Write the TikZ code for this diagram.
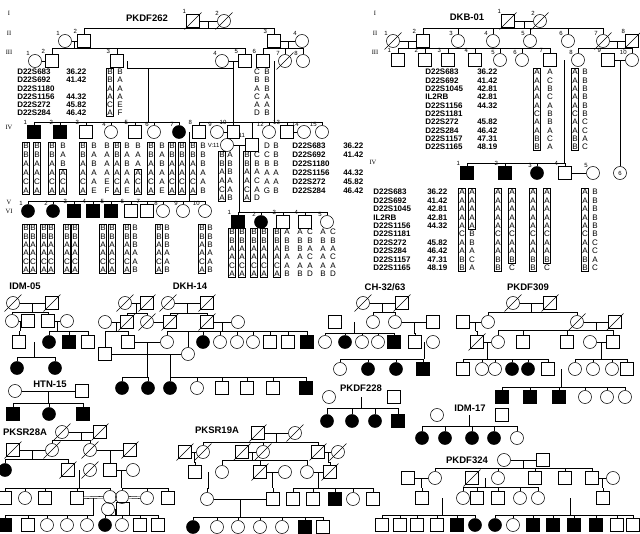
\documentclass[tikz,border=0pt]{standalone}
\usepackage{fontspec}
\setmainfont{Liberation Sans}
\newfontfamily\romfont{Liberation Serif}
\usetikzlibrary{calc}

\newcommand{\dishap}{B\\B\\A\\A\\C\\A}
\newcommand{\dkbhap}{A\\A\\A\\A\\A\\C\\A\\A\\B\\B}
% descent line from a marriage point to a row of children
\newcommand{\kids}[3]{%
  \coordinate (kidsy) at (0,#2);
  \draw (#1) -- (#1 |- kidsy);
  \foreach \kid in {#3} {\draw (\kid.north) |- (#1 |- kidsy);}
}

\tikzset{
  male/.style={draw, rectangle, minimum size=12.5pt, inner sep=0pt},
  female/.style={draw, circle, minimum size=13pt, inner sep=0pt},
  aff/.style={fill=black},
  dead/.style={append after command={([shift={(-8.5pt,-8.5pt)}]\tikzlastnode.center) edge ([shift={(8.5pt,8.5pt)}]\tikzlastnode.center)}},
  idx/.style={label={[font=\fontsize{6}{6}\selectfont, inner sep=.3pt, anchor=south east]north west:#1}},
  ttl/.style={font=\fontsize{9.5}{10}\selectfont\bfseries},
  gen/.style={font=\fontsize{6.5}{7}\selectfont\romfont},
  mk/.style={font=\fontsize{8}{#1}\selectfont\bfseries, align=left, anchor=west, inner sep=0pt},
  hap/.style={font=\fontsize{8}{#1}\selectfont, align=center, inner sep=.7pt, line width=.45pt},
  cons/.style={double, double distance=1.1pt},
}

\begin{document}
\begin{tikzpicture}[x=1pt, y=-1pt, line width=.55pt]
\path[use as bounding box, fill=white] (0,0) rectangle (640,533);

% ---------------- PKDF262 ----------------
\node[ttl] (aT) at (147,18) {PKDF262};
\node[gen] (aG1) at (9,13) {I};
\node[gen] (aG2) at (9,33) {II};
\node[gen] (aG3) at (9,52) {III};
\node[gen] (aG4) at (9,127) {IV};
\node[gen] (aG5) at (9,202) {V};
\node[gen] (aG6) at (9,211) {VI};

\node[male, dead, idx=1] (aI1) at (193,21) {};
\node[female, dead, idx=2] (aI2) at (224,21) {};

\node[female, idx=1] (aII1) at (65,41) {};
\node[male, idx=2] (aII2) at (84,41) {};
\node[male, idx=3] (aII3) at (274,41) {};
\node[female, idx=4] (aII4) at (302,41) {};

\node[female, idx=1] (aIII1) at (35,61) {};
\node[male, idx=2] (aIII2) at (52,61) {};
\node[male, idx=3] (aIII3) at (117,61) {};
\node[female, idx=4] (aIII4) at (222,61) {};
\node[male, idx=5] (aIII5) at (245,61) {};
\node[male, idx=6] (aIII6) at (263,61) {};
\node[female, dead, idx=7] (aIII7) at (285,61) {};
\node[female, idx=8] (aIII8) at (303,61) {};

\node[male, aff, idx=1] (aIV1) at (34,132) {};
\node[male, aff, idx=2] (aIV2) at (60,132) {};
\node[male, idx=3] (aIV3) at (86,132) {};
\node[female, idx=4] (aIV4) at (111,132) {};
\node[male, idx=5] (aIV5) at (135,132) {};
\node[female, idx=6] (aIV6) at (154,132) {};
\node[female, aff, idx=7] (aIV7) at (179,132) {};
\node[male, idx=8] (aIV8) at (199,132) {};
\node[female, idx=9] (aIV9) at (217,132) {};
\node[male, idx=10] (aIV10) at (233.5,132) {};
\node[male, idx=11] (aIV11) at (252,145) {};
\node[female] (aV11) at (227,145) {};
\node[font=\fontsize{6}{6}\selectfont, anchor=east, inner sep=.5pt] (aV11l) at (aV11.west) {V:11};
\node[female, idx=12] (aIV12) at (269,132) {};
\node[male, idx=13] (aIV13) at (287,132) {};
\node[female, idx=14] (aIV14) at (304,132) {};
\node[female, idx=15] (aIV15) at (322,132) {};

\node[female, aff, idx=1] (aV1) at (28,211) {};
\node[female, aff, idx=2] (aV2) at (53,211) {};
\node[male, aff, idx=3] (aV3) at (74,211) {};
\node[male, aff, idx=4] (aV4) at (93,211) {};
\node[male, aff, idx=5] (aV5) at (111,211) {};
\node[male, idx=6] (aV6) at (131,211) {};
\node[male, idx=7] (aV7) at (147,211) {};
\node[female, idx=8] (aV8) at (163,211) {};
\node[female, idx=9] (aV9) at (183,211) {};
\node[female, idx=10] (aV10) at (205,211) {};

\node[male, aff, idx=1] (aVI1) at (238,222) {};
\node[female, aff, idx=2] (aVI2) at (261,222) {};
\node[male, idx=3] (aVI3) at (283,222) {};
\node[male, idx=4] (aVI4) at (305,222) {};
\node[female, idx=5] (aVI5) at (327,222) {};

\draw (aI1) -- (aI2);
\coordinate (aM1) at ($(aI1)!.5!(aI2)$);
\kids{aM1}{28}{aII2,aII3}
\draw (aII1) -- (aII2);
\draw (aII3) -- (aII4);
\coordinate (aM2) at ($(aII1)!.5!(aII2)$);
\kids{aM2}{48}{aIII2,aIII3,aIII5}
\coordinate (aM3) at ($(aII3)!.5!(aII4)$);
\kids{aM3}{48}{aIII6,aIII7,aIII8}
\draw (aIII1) -- (aIII2);
\draw (aIII4) -- (aIII5);
\draw[cons] (aIII6) -- (aIII7);
\coordinate (aJ1) at (127,68);
\coordinate (aJ2) at (148,68);
\coordinate (aM45) at ($(aIII4)!.5!(aIII5)$);
\draw[cons] (aIII3.east) -- (aIII3.east -| aJ1);
\draw (aIII3.east -| aJ1) -- (aJ1) -- (aJ1 -| aM45);
\draw (aM45) -- (aIV10);
\kids{aJ2}{122}{aIV1,aIV2,aIV3,aIV4,aIV5,aIV6,aIV7}
\coordinate (aM67) at ($(aIII6)!.5!(aIII7)$);
\kids{aM67}{122}{aIV8,aIV11,aIV12,aIV13,aIV15}
\draw[cons] (aIV7) -- (aIV8);
\draw (aIV9) -- (aIV10);
\draw (aIV13) -- (aIV14);
\draw (aV11) -- (aIV11);
\coordinate (aM78) at ($(aIV7)!.5!(aIV8)$);
\kids{aM78}{201}{aV1,aV2,aV3,aV4,aV5,aV6,aV7,aV8,aV9,aV10}
\coordinate (aM11) at ($(aV11)!.5!(aIV11)$);
\kids{aM11}{212}{aVI1,aVI2,aVI3,aVI4,aVI5}

% markers and haplotypes
\node[mk=8.2] (aMk) at (17,92.5) {D22S683\\D22S692\\D22S1180\\D22S1156\\D22S272\\D22S284};
\node[mk=8.2] (aCm) at (66,92.5) {36.22\\41.42\\~\\44.32\\45.82\\46.42};
\node[mk=9] (aMk2) at (292,168.5) {D22S683\\D22S692\\D22S1180\\D22S1156\\D22S272\\D22S284};
\node[mk=9] (aCm2) at (343,168.5) {36.22\\41.42\\~\\44.32\\45.82\\46.42};

\foreach \x/\bx/\al [count=\i] in {110/black/\dishap, 120/none/{B\\A\\A\\A\\E\\F},
  257/none/{C\\B\\A\\C\\A\\D}, 267/none/{B\\B\\B\\A\\A\\B}}
  \node[hap=8.2, draw=\bx] (aP\i) at (\x,92.5) {\al};

\foreach \x/\bx/\al [count=\i] in {26/black/\dishap, 37/black/\dishap, 52/black/\dishap,
  83/black/\dishap, 94/none/{B\\A\\B\\A\\A\\E}, 107/none/{B\\A\\A\\A\\E\\F},
  117/black/\dishap, 127/none/{B\\A\\B\\A\\A\\E}, 151/black/\dishap,
  162/none/{B\\A\\B\\A\\A\\E}, 172/black/\dishap, 182/black/\dishap,
  193/black/\dishap, 203/none/{B\\B\\B\\A\\A\\B}, 267/none/{D\\C\\B\\A\\A\\G},
  276/none/{B\\B\\B\\A\\A\\B}}
  \node[hap=9, draw=\bx] (aH\i) at (\x,168.5) {\al};
\node[hap=9] (aH2a) at (63,155) {B\\A\\B};
\node[hap=9, draw] (aH2b) at (63,182) {A\\C\\A};
\node[hap=9] (aH5a) at (138,155) {B\\A\\A};
\node[hap=9, draw] (aH5b) at (138,182) {A\\C\\A};

\foreach \x/\bx/\al [count=\i] in {222/black/\dishap, 230/none/{A\\B\\B\\A\\A\\B},
  247/black/\dishap, 257/none/{C\\B\\A\\C\\A\\D}}
  \node[hap=8.6, draw=\bx] (aK\i) at (\x,176.5) {\al};

\foreach \x/\bx/\al [count=\i] in {26/black/\dishap, 33/black/\dishap, 44/black/\dishap,
  51/black/\dishap, 67/black/\dishap, 75/black/\dishap, 103/black/\dishap,
  112/black/\dishap, 127/black/\dishap, 135/none/{B\\B\\B\\A\\A\\B},
  159/black/\dishap, 167/none/{B\\B\\B\\A\\A\\B}, 202/black/\dishap,
  210/none/{B\\B\\B\\A\\A\\B}}
  \node[hap=8.4, draw=\bx] (aL\i) at (\x,249) {\al};

\foreach \x/\bx/\al [count=\i] in {232/black/\dishap, 242/black/\dishap, 254/black/\dishap,
  264/black/\dishap, 277/black/\dishap, 287/none/{A\\B\\B\\A\\A\\B},
  300/none/{A\\B\\B\\A\\A\\B}, 310/none/{C\\B\\A\\C\\A\\D},
  323/none/{A\\B\\A\\A\\A\\B}, 333/none/{C\\B\\A\\C\\A\\D}}
  \node[hap=8.4, draw=\bx] (aN\i) at (\x,253) {\al};

% ---------------- DKB-01 ----------------
\node[ttl] (bT) at (467,17) {DKB-01};
\node[gen] (bG1) at (375,13) {I};
\node[gen] (bG2) at (375,33) {II};
\node[gen] (bG3) at (375,52) {III};
\node[gen] (bG4) at (373,162) {IV};

\node[male, dead, idx=1] (bI1) at (508,21) {};
\node[female, dead, idx=2] (bI2) at (540,21) {};

\node[female, dead, idx=1] (bII1) at (393,41) {};
\node[male, idx=2] (bII2) at (423,41) {};
\node[female, idx=3] (bII3) at (458,41) {};
\node[female, idx=4] (bII4) at (493,41) {};
\node[female, idx=5] (bII5) at (530,41) {};
\node[female, idx=6] (bII6) at (568,41) {};
\node[female, dead, idx=7] (bII7) at (603,41) {};
\node[male, dead, idx=8] (bII8) at (632,41) {};

\node[male, idx=1] (bIII1) at (398,60) {};
\node[male, idx=2] (bIII2) at (425,60) {};
\node[male, idx=3] (bIII3) at (448,60) {};
\node[male, idx=4] (bIII4) at (475,60) {};
\node[female, idx=5] (bIII5) at (500,60) {};
\node[female, idx=6] (bIII6) at (522,60) {};
\node[male, idx=7] (bIII7) at (550,60) {};
\node[female, idx=8] (bIII8) at (578,60) {};
\node[male, idx=9] (bIII9) at (608,60) {};
\node[female, idx=10] (bIII10) at (632,60) {};

\node[male, aff, idx=1] (bIV1) at (467,173) {};
\node[male, aff, idx=2] (bIV2) at (505,173) {};
\node[female, aff, idx=3] (bIV3) at (537,173) {};
\node[male, idx=4] (bIV4) at (565,173) {};
\node[female, idx=5] (bIV5) at (593,173) {};
\node[female, font=\fontsize{6}{6}\selectfont] (bIV6) at (620,173) {6};

\draw (bI1) -- (bI2);
\coordinate (bM1) at ($(bI1)!.5!(bI2)$);
\kids{bM1}{28}{bII2,bII3,bII4,bII5,bII6,bII7}
\draw (bII1) -- (bII2);
\coordinate (bM2) at ($(bII1)!.5!(bII2)$);
\kids{bM2}{48}{bIII1,bIII2,bIII3,bIII4,bIII5,bIII6,bIII7}
\draw (bII7) -- (bII8);
\coordinate (bM3) at ($(bII7)!.5!(bII8)$);
\kids{bM3}{48}{bIII8,bIII10}
\draw[cons] (bIII7) -- (bIII8);
\coordinate (bM4) at ($(bIII7)!.5!(bIII8)$);
\kids{bM4}{163}{bIV1,bIV2,bIV3,bIV4}
\draw (bIII9) -- (bIII10);
\coordinate (bM5) at ($(bIII9)!.5!(bIII10)$);
\draw (bM5) -- (bIV6);
\draw (bIV4) -- (bIV5);

\node[mk=8.33] (bMk) at (425,109.5) {D22S683\\D22S692\\D22S1045\\IL2RB\\D22S1156\\D22S1181\\D22S272\\D22S284\\D22S1157\\D22S1165};
\node[mk=8.33] (bCm) at (477,109.5) {36.22\\41.42\\42.81\\42.81\\44.32\\~\\45.82\\46.42\\47.31\\48.19};
\node[mk=8.44] (bMk2) at (373,230) {D22S683\\D22S692\\D22S1045\\IL2RB\\D22S1156\\D22S1181\\D22S272\\D22S284\\D22S1157\\D22S1165};
\node[mk=8.44] (bCm2) at (427,230) {36.22\\41.42\\42.81\\42.81\\44.32\\~\\45.82\\46.42\\47.31\\48.19};

\foreach \x/\bx/\al [count=\i] in {537/black/\dkbhap, 550/none/{A\\C\\B\\C\\A\\B\\B\\A\\C\\A},
  575/black/\dkbhap, 585/none/{B\\B\\B\\B\\B\\B\\C\\C\\A\\C}}
  \node[hap=8.33, draw=\bx] (bP\i) at (\x,109.5) {\al};

\foreach \x/\bx/\al [count=\i] in {462/black/\dkbhap, 498/black/\dkbhap, 533/black/\dkbhap,
  585/black/\dkbhap, 595/none/{B\\B\\B\\B\\B\\B\\C\\C\\A\\C}}
  \node[hap=8.44, draw=\bx] (bH\i) at (\x,230) {\al};
\node[hap=8.44, draw] (bH6a) at (472,208.9) {A\\A\\A\\A\\A};
\node[hap=8.44] (bH6b) at (472,251.1) {B\\B\\A\\C\\A};
\node[hap=8.44, draw] (bH7a) at (512,225.8) {A\\A\\A\\A\\A\\C\\A\\A\\B};
\node[hap=8.44] (bH7b) at (512,268) {C};
\node[hap=8.44, draw] (bH8a) at (547,225.8) {A\\A\\A\\A\\A\\C\\A\\A\\B};
\node[hap=8.44] (bH8b) at (547,268) {C};

% ---------------- IDM-05 ----------------
\node[ttl] (cT) at (25,286) {IDM-05};
\node[female, dead] (cI1) at (13,303) {};
\node[male, dead] (cI2) at (52,303) {};
\node[female] (cII1) at (12,321) {};
\node[male] (cII2) at (28,321) {};
\node[male] (cII3) at (48,321) {};
\node[female] (cII4) at (67,321) {};
\node[male] (cIII1) at (19,342) {};
\node[female, aff] (cIII2) at (49,342) {};
\node[male, aff] (cIII3) at (69,342) {};
\node[male] (cIII4) at (88,342) {};
\node[female, aff] (cIV1) at (17,368) {};
\node[female, aff] (cIV2) at (55,368) {};
\draw (cI1) -- (cI2);
\coordinate (cM1) at ($(cI1)!.5!(cI2)$);
\kids{cM1}{312}{cII1,cII3}
\draw (cII1) -- (cII2);
\coordinate (cM2) at ($(cII1)!.5!(cII2)$);
\kids{cM2}{331}{cIII1}
\draw (cII3) -- (cII4);
\coordinate (cM3) at ($(cII3)!.5!(cII4)$);
\kids{cM3}{331}{cIII2,cIII3,cIII4}
\draw[cons] (cIII1) -- (cIII2);
\coordinate (cM4) at ($(cIII1)!.5!(cIII2)$);
\kids{cM4}{357}{cIV1,cIV2}

% ---------------- HTN-15 ----------------
\node[ttl] (eT) at (50,384) {HTN-15};
\node[female] (eI1) at (15,391) {};
\node[male] (eI2) at (82,391) {};
\node[male, aff] (eII1) at (13,414) {};
\node[female, aff] (eII2) at (49,414) {};
\node[male, aff] (eII3) at (83,414) {};
\draw (eI1) -- (eI2);
\coordinate (eM1) at ($(eI1)!.5!(eI2)$);
\kids{eM1}{403}{eII1,eII2,eII3}

% ---------------- DKH-14 ----------------
\node[ttl] (dT) at (190,286) {DKH-14};
\node[female, dead] (dI1) at (125,303) {};
\node[male, dead] (dI2) at (147,303) {};
\node[female, dead] (dI3) at (168,303) {};
\node[male, dead] (dI4) at (207,303) {};
\node[female] (dII1) at (105,322) {};
\node[male, dead] (dII2) at (127,322) {};
\node[female, dead] (dII3) at (147,322) {};
\node[male, dead] (dII4) at (170,322) {};
\node[male, dead] (dII5) at (207,322) {};
\node[female] (dII6) at (238,322) {};
\node[male] (dIII1) at (128,342) {};
\node[male] (dIII2) at (105,354) {};
\node[female] (dIII3) at (167,342) {};
\node[female, aff] (dIII4) at (203,342) {};
\node[female] (dIII5) at (220,342) {};
\node[female] (dIII6) at (237,342) {};
\node[female] (dIII7) at (253,342) {};
\node[male] (dIII8) at (270,342) {};
\node[male] (dIII9) at (288,342) {};
\node[male, aff] (dIII10) at (307,342) {};
\node[female] (dIII11) at (188,354) {};
\node[female, aff] (dIV1) at (122,388) {};
\node[female, aff] (dIV2) at (148,388) {};
\node[female, aff] (dIV3) at (170,388) {};
\node[female] (dIV4) at (197,388) {};
\node[male] (dIV5) at (222,388) {};
\node[male] (dIV6) at (247,388) {};
\node[male] (dIV7) at (273,388) {};
\node[male, aff] (dIV8) at (306,388) {};
\draw (dI1) -- (dI2);
\draw (dI3) -- (dI4);
\coordinate (dM1) at ($(dI1)!.5!(dI2)$);
\kids{dM1}{313}{dII2,dII3}
\coordinate (dM2) at ($(dI3)!.5!(dI4)$);
\kids{dM2}{313}{dII4,dII5}
\draw (dII1) -- (dII2);
\draw (dII3) -- (dII4);
\draw (dII5) -- (dII6);
\coordinate (dM3) at ($(dII1)!.5!(dII2)$);
\kids{dM3}{331}{dIII1,dIII2}
\coordinate (dM4) at ($(dII5)!.5!(dII6)$);
\kids{dM4}{331}{dIII3,dIII4,dIII5,dIII6,dIII7,dIII8,dIII9,dIII10,dIII11}
\draw (dIII1) -- (dIII3);
\coordinate (dM5) at ($(dIII1)!.5!(dIII3)$);
\kids{dM5}{377}{dIV1,dIV2}
\draw (dIII2) -- (dIII11);
\coordinate (dM6) at (170,354);
\kids{dM6}{377}{dIV3,dIV4,dIV5,dIV6,dIV7,dIV8}

% ---------------- CH-32/63 ----------------
\node[ttl] (fT) at (385,287) {CH-32/63};
\node[female, dead] (fI1) at (363,303) {};
\node[male, dead] (fI2) at (402,303) {};
\node[male] (fII1) at (335,322) {};
\node[female] (fII2) at (373,322) {};
\node[female] (fII3) at (395,322) {};
\node[male] (fII4) at (433,322) {};
\node[female] (fIII1) at (325,342) {};
\node[female, aff] (fIII2) at (345,342) {};
\node[female] (fIII3) at (362,342) {};
\node[female] (fIII4) at (378,342) {};
\node[male, aff] (fIII5) at (394,342) {};
\node[male] (fIII6) at (415,342) {};
\node[female] (fIII7) at (433,342) {};
\node[female] (fIV1) at (340,369) {};
\node[female, aff] (fIV2) at (368,369) {};
\node[female, aff] (fIV3) at (396,369) {};
\node[male, aff] (fIV4) at (423,369) {};
\draw (fI1) -- (fI2);
\coordinate (fM1) at ($(fI1)!.5!(fI2)$);
\kids{fM1}{312}{fII2,fII3}
\draw[cons] (fII1) -- (fII2);
\draw (fII3) -- (fII4);
\coordinate (fM2) at ($(fII1)!.5!(fII2)$);
\kids{fM2}{333}{fIII1,fIII2,fIII3,fIII4,fIII5}
\coordinate (fM3) at ($(fII3)!.5!(fII4)$);
\kids{fM3}{333}{fIII6}
\draw[cons] (fIII6) -- (fIII7);
\coordinate (fM4) at ($(fIII6)!.5!(fIII7)$);
\kids{fM4}{359}{fIV1,fIV2,fIV3,fIV4}

% ---------------- PKDF309 ----------------
\node[ttl] (gT) at (528,287) {PKDF309};
\node[female, dead] (gI1) at (513,303) {};
\node[male, dead] (gI2) at (550,303) {};
\node[male] (gII1) at (463,322) {};
\node[female] (gII2) at (488,322) {};
\node[female, dead] (gII3) at (577,322) {};
\node[male, dead] (gII4) at (615,322) {};
\node[male, dead] (gIII1) at (477,342) {};
\node[female] (gIII2) at (498,342) {};
\node[male] (gIII3) at (523,342) {};
\node[male] (gIII4) at (567,342) {};
\node[female] (gIII5) at (590,342) {};
\node[male] (gIII6) at (613,342) {};
\node[male] (gIV1) at (463,369) {};
\node[female] (gIV2) at (482,369) {};
\node[female] (gIV3) at (495,369) {};
\node[female, aff] (gIV4) at (512,369) {};
\node[female, aff] (gIV5) at (528,369) {};
\node[male] (gIV6) at (548,369) {};
\node[female] (gIV7) at (575,369) {};
\node[female] (gIV8) at (593,369) {};
\node[female] (gIV9) at (612,369) {};
\node[male] (gIV10) at (627,369) {};
\node[male, aff] (gV1) at (502,397) {};
\node[male, aff] (gV2) at (530,397) {};
\node[male, aff] (gV3) at (559,397) {};
\node[female] (gV4) at (585,397) {};
\node[female] (gV5) at (607,397) {};
\node[female] (gV6) at (625,397) {};
\draw (gI1) -- (gI2);
\coordinate (gM1) at ($(gI1)!.5!(gI2)$);
\kids{gM1}{312}{gII2,gII3}
\draw (gII1) -- (gII2);
\draw (gII3) -- (gII4);
\coordinate (gM2) at ($(gII1)!.5!(gII2)$);
\kids{gM2}{331}{gIII1}
\coordinate (gM3) at ($(gII3)!.5!(gII4)$);
\kids{gM3}{330}{gIII2,gIII3,gIII4,gIII6}
\draw (gIII1) -- (gIII2);
\draw (gIII5) -- (gIII6);
\coordinate (gM4) at ($(gIII1)!.5!(gIII2)$);
\kids{gM4}{359}{gIV1,gIV2,gIV3,gIV4,gIV5,gIV6}
\coordinate (gM5) at ($(gIII5)!.5!(gIII6)$);
\kids{gM5}{359}{gIV7,gIV8,gIV9,gIV10}
\draw[cons] (gIV6) -- (gIV7);
\coordinate (gM6) at ($(gIV6)!.5!(gIV7)$);
\kids{gM6}{387}{gV1,gV2,gV3,gV4,gV5,gV6}

% ---------------- PKDF228 ----------------
\node[ttl] (hT) at (361,388) {PKDF228};
\node[female] (hI1) at (329,397) {};
\node[male] (hI2) at (394,397) {};
\node[female, aff] (hII1) at (327,421) {};
\node[female, aff] (hII2) at (352,421) {};
\node[female, aff] (hII3) at (375,421) {};
\node[male, aff] (hII4) at (398,421) {};
\draw[cons] (hI1) -- (hI2);
\coordinate (hM1) at ($(hI1)!.5!(hI2)$);
\kids{hM1}{408}{hII1,hII2,hII3,hII4}

% ---------------- IDM-17 ----------------
\node[ttl] (iT) at (470,408) {IDM-17};
\node[female] (iI1) at (437,415) {};
\node[male] (iI2) at (502,415) {};
\node[female, aff] (iII1) at (422,438) {};
\node[female, aff] (iII2) at (445,438) {};
\node[female, aff] (iII3) at (472,438) {};
\node[female, aff] (iII4) at (494,438) {};
\node[female] (iII5) at (517,438) {};
\draw[cons] (iI1) -- (iI2);
\coordinate (iM1) at ($(iI1)!.5!(iI2)$);
\kids{iM1}{426}{iII1,iII2,iII3,iII4,iII5}

% ---------------- PKSR28A ----------------
\node[ttl] (jT) at (25,432) {PKSR28A};
\node[female, dead] (jI1) at (62,432) {};
\node[male, dead] (jI2) at (100,432) {};
\node[male, dead] (jII1) at (13,450) {};
\node[female, dead] (jII2) at (52,450) {};
\node[female, dead] (jII3) at (90,450) {};
\node[male, dead] (jII4) at (130,450) {};
\node[female, aff] (jIII1) at (5,470) {};
\node[male, dead] (jIII2) at (68,470) {};
\node[female, dead] (jIII3) at (90,470) {};
\node[male] (jIII4) at (110,470) {};
\node[female] (jIII5) at (133,470) {};
\node[male] (jIV1) at (5,498) {};
\node[female] (jIV2) at (25,498) {};
\node[male] (jIV3) at (45,498) {};
\node[male] (jIV4) at (77,498) {};
\node[female] (jIV5) at (110,497) {};
\node[female] (jIV6) at (122,497) {};
\node[female] (jIV7) at (147,498) {};
\node[male] (jIV8) at (168,498) {};
\node[female] (jIV9) at (108,509) {};
\node[male] (jIV10) at (123,509) {};
\node[male, aff] (jV1) at (5,525) {};
\node[male] (jV2) at (28,525) {};
\node[female] (jV3) at (47,525) {};
\node[female] (jV4) at (67,525) {};
\node[female] (jV5) at (87,525) {};
\node[female, aff] (jV6) at (105,525) {};
\node[female] (jV7) at (122,525) {};
\node[male] (jV8) at (140,525) {};
\node[male] (jV9) at (158,525) {};
\draw (jI1) -- (jI2);
\coordinate (jM1) at ($(jI1)!.5!(jI2)$);
\kids{jM1}{440}{jII2,jII3}
\draw (jII1) -- (jII2);
\draw (jII3) -- (jII4);
\coordinate (jM2) at ($(jII1)!.5!(jII2)$);
\kids{jM2}{459}{jIII1,jIII2}
\coordinate (jM3) at ($(jII3)!.5!(jII4)$);
\kids{jM3}{460}{jIII4}
\draw[cons] (jIII2) -- (jIII3);
\draw (jIII4) -- (jIII5);
\coordinate (jM4) at ($(jIII2)!.5!(jIII3)$);
\kids{jM4}{488}{jIV1,jIV2,jIV3,jIV4,jIV5}
\coordinate (jM5) at ($(jIII4)!.5!(jIII5)$);
\kids{jM5}{488}{jIV6,jIV7,jIV8}
\draw[cons] (jIV4) -- (jIV5);
\draw[cons] (jIV6) -- (jIV7);
\coordinate (jM6) at ($(jIV4)!.5!(jIV5)$);
\kids{jM6}{515}{jV1,jV2,jV3,jV4,jV5}
\coordinate (jM7) at ($(jIV9)!.5!(jIV10)$);
\kids{jM7}{515}{jV6,jV7,jV8,jV9}

% ---------------- PKSR19A ----------------
\node[ttl] (kT) at (217,430) {PKSR19A};
\node[male, dead] (kI1) at (258,433) {};
\node[female, dead] (kI2) at (295,433) {};
\node[male, dead] (kII1) at (185,452) {};
\node[female, dead] (kII2) at (203,452) {};
\node[male, dead] (kII3) at (242,452) {};
\node[female, dead] (kII4) at (263,452) {};
\node[male, dead] (kII5) at (318,452) {};
\node[female, dead] (kII6) at (338,452) {};
\node[male] (kIII1) at (195,472) {};
\node[female] (kIII2) at (222,472) {};
\node[male, dead] (kIII3) at (260,472) {};
\node[female] (kIII4) at (285,472) {};
\node[female] (kIII5) at (307,472) {};
\node[male, dead] (kIII6) at (330,472) {};
\node[female] (kIV1) at (207,499) {};
\node[male] (kIV2) at (273,499) {};
\node[male] (kIV3) at (293,499) {};
\node[male] (kIV4) at (313,499) {};
\node[male, aff] (kIV5) at (335,499) {};
\node[female] (kIV6) at (353,499) {};
\node[male] (kIV7) at (373,499) {};
\node[female, aff] (kV1) at (193,527) {};
\node[female] (kV2) at (217,527) {};
\node[female] (kV3) at (238,527) {};
\node[female] (kV4) at (260,527) {};
\node[female] (kV5) at (282,527) {};
\node[male, aff] (kV6) at (305,527) {};
\node[male] (kV7) at (323,527) {};
\draw (kI1) -- (kI2);
\coordinate (kM1) at ($(kI1)!.5!(kI2)$);
\kids{kM1}{442}{kII2,kII4,kII5}
\draw (kII1) -- (kII2);
\draw (kII3) -- (kII4);
\draw (kII5) -- (kII6);
\coordinate (kM2) at ($(kII1)!.5!(kII2)$);
\kids{kM2}{462}{kIII1}
\coordinate (kM3) at ($(kII3)!.5!(kII4)$);
\kids{kM3}{460}{kIII2,kIII3,kIII5}
\coordinate (kM4) at ($(kII5)!.5!(kII6)$);
\kids{kM4}{462}{kIII6}
\draw[cons] (kIII1) -- (kIII2);
\draw (kIII3) -- (kIII4);
\draw (kIII5) -- (kIII6);
\coordinate (kM5) at ($(kIII1)!.5!(kIII2)$);
\kids{kM5}{488}{kIV1}
\coordinate (kM6) at ($(kIII3)!.5!(kIII4)$);
\kids{kM6}{488}{kIV2}
\coordinate (kM7) at ($(kIII5)!.5!(kIII6)$);
\kids{kM7}{488}{kIV3,kIV4,kIV5,kIV6,kIV7}
\draw (kIV1) -- (kIV2);
\coordinate (kM8) at ($(kIV1)!.5!(kIV2)$);
\kids{kM8}{517}{kV1,kV2,kV3,kV4,kV5,kV6,kV7}

% ---------------- PKDF324 ----------------
\node[ttl] (lT) at (467,460) {PKDF324};
\node[female] (lI1) at (504,460) {};
\node[male] (lI2) at (543,460) {};
\node[male] (lII1) at (408,478) {};
\node[female] (lII2) at (435,478) {};
\node[male, dead] (lII3) at (472,478) {};
\node[female] (lII4) at (498,478) {};
\node[male] (lII5) at (535,478) {};
\node[male] (lII6) at (565,478) {};
\node[male] (lII7) at (592,478) {};
\node[female] (lII8) at (613,478) {};
\node[male] (lIII1) at (422,498) {};
\node[female] (lIII2) at (463,498) {};
\node[male] (lIII3) at (477,498) {};
\node[male] (lIII4) at (498,498) {};
\node[female] (lIII5) at (520,498) {};
\node[female] (lIII6) at (538,498) {};
\node[male] (lIII7) at (603,498) {};
\node[male] (lIV1) at (382,525) {};
\node[male] (lIV2) at (400,525) {};
\node[male] (lIV3) at (417,525) {};
\node[male] (lIV4) at (437,525) {};
\node[male, aff] (lIV5) at (457,525) {};
\node[female, aff] (lIV6) at (475,525) {};
\node[female, aff] (lIV7) at (495,525) {};
\node[female] (lIV8) at (513,525) {};
\node[male, aff] (lIV9) at (533,525) {};
\node[male, aff] (lIV10) at (553,525) {};
\node[male, aff] (lIV11) at (574,525) {};
\node[male, aff] (lIV12) at (596,525) {};
\node[male] (lIV13) at (617,525) {};
\node[male] (lIV14) at (633,525) {};
\draw (lI1) -- (lI2);
\coordinate (lM1) at ($(lI1)!.5!(lI2)$);
\kids{lM1}{468}{lII2,lII4,lII5,lII6,lII7}
\draw (lII1) -- (lII2);
\draw[cons] (lII3) -- (lII4);
\draw (lII7) -- (lII8);
\coordinate (lM2) at ($(lII1)!.5!(lII2)$);
\kids{lM2}{488}{lIII1}
\coordinate (lM3) at ($(lII3)!.5!(lII4)$);
\kids{lM3}{487}{lIII2,lIII3,lIII4,lIII5,lIII6}
\coordinate (lM4) at ($(lII7)!.5!(lII8)$);
\kids{lM4}{488}{lIII7}
\draw[cons] (lIII1) -- (lIII2);
\draw[cons] (lIII6) -- (lIII7);
\coordinate (lM5) at ($(lIII1)!.5!(lIII2)$);
\kids{lM5}{515}{lIV1,lIV2,lIV3,lIV4,lIV5,lIV6}
\coordinate (lM6) at ($(lIII6)!.5!(lIII7)$);
\kids{lM6}{515}{lIV7,lIV8,lIV9,lIV10,lIV11,lIV12,lIV13,lIV14}
\end{tikzpicture}
\end{document}
